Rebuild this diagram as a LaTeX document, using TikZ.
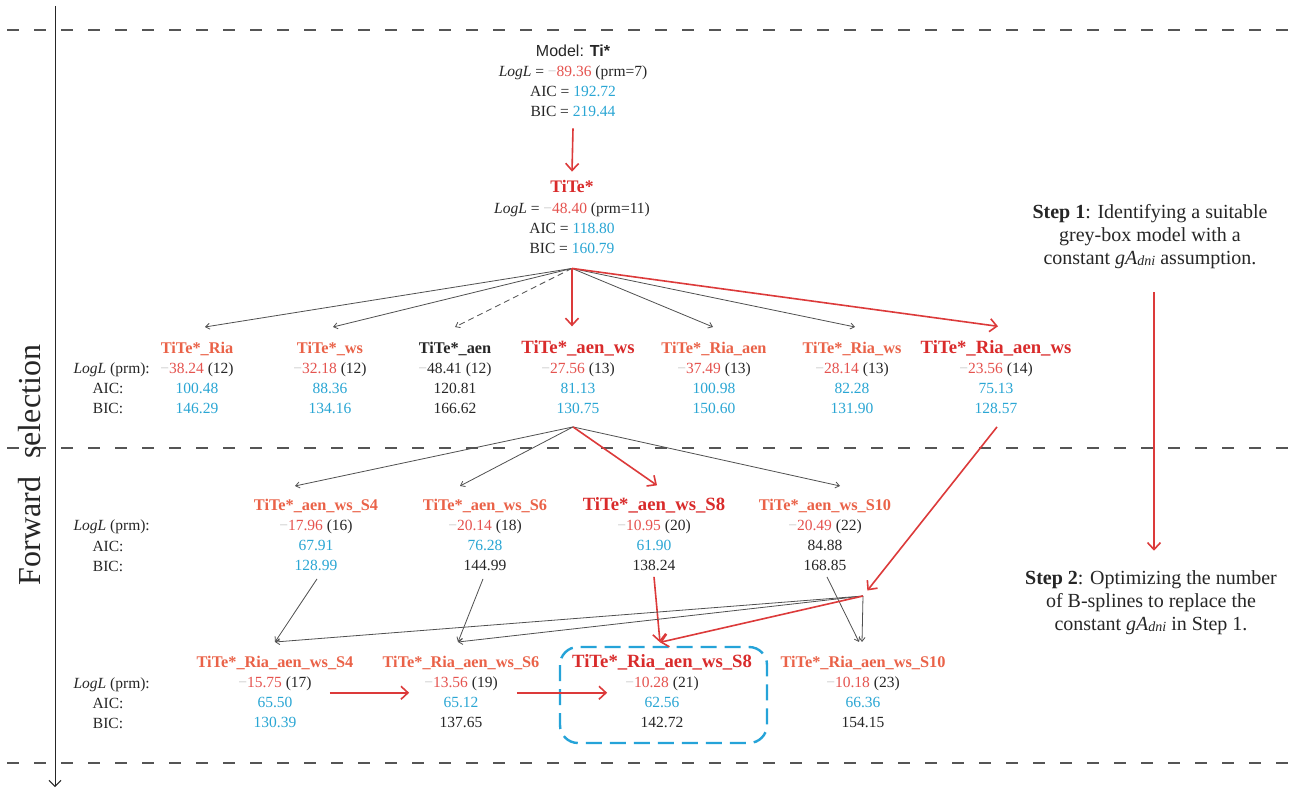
\documentclass[tikz,border=0pt]{standalone}
\usepackage{fontspec}
\setmainfont{Liberation Serif}
\newfontfamily\sansf{Liberation Sans}
\usetikzlibrary{arrows.meta,calc}
\definecolor{tred}{HTML}{D92B2B}
\definecolor{torange}{HTML}{EA6248}
\definecolor{vred}{HTML}{E5534F}
\definecolor{vblue}{HTML}{2AA6D4}
\definecolor{mgray}{HTML}{C8C8C8}
\definecolor{tdark}{HTML}{262626}
\definecolor{lgray}{HTML}{505050}
\definecolor{lred}{HTML}{DC3A3A}
\definecolor{sepgray}{HTML}{555555}
\definecolor{boxblue}{HTML}{25A3D8}
\newcommand\fbody{\fontsize{15.5}{20}\selectfont}
\newcommand\fttl{\fontsize{16.3}{20}\selectfont\bfseries}
\newcommand\fbig{\fontsize{18.7}{22}\selectfont\bfseries}
\newcommand\Mn{{\color{mgray}−}}
\newcommand\Rv[1]{\textcolor{vred}{#1}}
\newcommand\Bv[1]{\textcolor{vblue}{#1}}
\newcommand\gAdni{\textit{gA}\raisebox{-1pt}{\fontsize{14}{14}\selectfont\textit{dni}}}
\tikzset{
  txt/.style={inner sep=0pt, anchor=base, font=\fbody, text=tdark},
  ttlo/.style={txt, font=\fttl, text=torange},
  ttlr/.style={txt, font=\fbig, text=tred},
  ttlk/.style={txt, font=\fttl, text=tdark},
  gline/.style={draw=lgray, line width=0.8pt, -{Straight Barb[length=4pt,width=6pt]}},
  rline/.style={draw=lred, line width=1.6pt, -{Straight Barb[length=7pt,width=13pt]}},
  sepline/.style={draw=sepgray, line width=1.1pt, dash pattern=on 12pt off 15pt, dash phase=-7pt},
  axisline/.style={draw=tdark, line width=1pt, -{Straight Barb[length=6pt,width=12pt]}},
  stepnode/.style={inner sep=0pt, align=center, font=\fontsize{20}{23}\selectfont, text=tdark},
}
\newcommand\model[8]{%
  \node[#4] (#1t) at (#2,#3+5.5) {#5};
  \node[txt] (#1l) at (#2,#3+25.5) {#6};
  \node[txt] (#1a) at (#2,#3+45.5) {#7};
  \node[txt] (#1b) at (#2,#3+65.5) {#8};
}
\begin{document}
\begin{tikzpicture}[x=1pt,y=-1pt]
\fill[white] (0,0) rectangle (1298,789);
\useasboundingbox (0,0) rectangle (1298,789);

% separators and axis
\draw[sepline] (0,30) -- (1298,30);
\draw[sepline] (0,448) -- (1298,448);
\draw[sepline] (0,763) -- (1298,763);
\draw[axisline] (55,6) -- (55,787);
\node[rotate=90, inner sep=0pt, font=\fontsize{32}{32}\selectfont, text=tdark] (fs) at (30,465) {Forward\hspace{18pt}selection};

% top models
\node[txt, font=\sansf\fontsize{16}{20}\selectfont] (m0t) at (573,57) {Model: \textbf{Ti*}};
\node[txt] (m0l) at (573,77) {\textit{LogL} = \Mn\Rv{89.36} (prm=7)};
\node[txt] (m0a) at (573,97) {AIC = \Bv{192.72}};
\node[txt] (m0b) at (573,117) {BIC = \Bv{219.44}};

\node[ttlr, font=\fontsize{17.6}{20}\selectfont\bfseries] (m1t) at (572,192) {TiTe*};
\node[txt] (m1l) at (572,213) {\textit{LogL} = \Mn\Rv{48.40} (prm=11)};
\node[txt] (m1a) at (572,233) {AIC = \Bv{118.80}};
\node[txt] (m1b) at (572,253) {BIC = \Bv{160.79}};

% row labels
\node[txt, anchor=base east] (lab1l) at (150,373) {\textit{LogL} (prm):};
\node[txt] (lab1a) at (108,393) {AIC:};
\node[txt] (lab1b) at (108,413) {BIC:};
\node[txt, anchor=base east] (lab2l) at (150,530) {\textit{LogL} (prm):};
\node[txt] (lab2a) at (108,551) {AIC:};
\node[txt] (lab2b) at (108,571) {BIC:};
\node[txt, anchor=base east] (lab3l) at (150,688) {\textit{LogL} (prm):};
\node[txt] (lab3a) at (108,708) {AIC:};
\node[txt] (lab3b) at (108,728) {BIC:};

% row 1
\model{r1a}{197}{348}{ttlo}{TiTe*\_Ria}{\Mn\Rv{38.24} (12)}{\Bv{100.48}}{\Bv{146.29}}
\model{r1b}{330}{348}{ttlo}{TiTe*\_ws}{\Mn\Rv{32.18} (12)}{\Bv{88.36}}{\Bv{134.16}}
\model{r1c}{455}{348}{ttlk}{TiTe*\_aen}{\Mn 48.41 (12)}{120.81}{166.62}
\model{r1d}{578}{348}{ttlr}{TiTe*\_aen\_ws}{\Mn\Rv{27.56} (13)}{\Bv{81.13}}{\Bv{130.75}}
\model{r1e}{714}{348}{ttlo}{TiTe*\_Ria\_aen}{\Mn\Rv{37.49} (13)}{\Bv{100.98}}{\Bv{150.60}}
\model{r1f}{852}{348}{ttlo}{TiTe*\_Ria\_ws}{\Mn\Rv{28.14} (13)}{\Bv{82.28}}{\Bv{131.90}}
\model{r1g}{996}{348}{ttlr}{TiTe*\_Ria\_aen\_ws}{\Mn\Rv{23.56} (14)}{\Bv{75.13}}{\Bv{128.57}}

% row 2
\model{r2a}{316}{505}{ttlo}{TiTe*\_aen\_ws\_S4}{\Mn\Rv{17.96} (16)}{\Bv{67.91}}{\Bv{128.99}}
\model{r2b}{485}{505}{ttlo}{TiTe*\_aen\_ws\_S6}{\Mn\Rv{20.14} (18)}{\Bv{76.28}}{144.99}
\model{r2c}{654}{505}{ttlr}{TiTe*\_aen\_ws\_S8}{\Mn\Rv{10.95} (20)}{\Bv{61.90}}{138.24}
\model{r2d}{825}{505}{ttlo}{TiTe*\_aen\_ws\_S10}{\Mn\Rv{20.49} (22)}{84.88}{168.85}

% row 3
\model{r3a}{275}{662}{ttlo}{TiTe*\_Ria\_aen\_ws\_S4}{\Mn\Rv{15.75} (17)}{\Bv{65.50}}{\Bv{130.39}}
\model{r3b}{461}{662}{ttlo}{TiTe*\_Ria\_aen\_ws\_S6}{\Mn\Rv{13.56} (19)}{\Bv{65.12}}{137.65}
\model{r3c}{662}{662}{ttlr}{TiTe*\_Ria\_aen\_ws\_S8}{\Mn\Rv{10.28} (21)}{\Bv{62.56}}{142.72}
\model{r3d}{863}{662}{ttlo}{TiTe*\_Ria\_aen\_ws\_S10}{\Mn\Rv{10.18} (23)}{\Bv{66.36}}{154.15}

% selected model box
\draw[draw=boxblue, line width=2.4pt, dash pattern=on 16pt off 8pt, rounded corners=18pt] (560,647) rectangle (767,743);

% steps
\node[stepnode] (s1) at (1150,237) {\textbf{Step 1}: Identifying a suitable\\grey-box model with a\\constant \gAdni{} assumption.};
\node[stepnode] (s2) at (1151,603) {\textbf{Step 2}: Optimizing the number\\of B-splines to replace the\\constant \gAdni{} in Step 1.};
\draw[rline] ($(s1.south)+(4,23)$) -- ($(s2.north)+(3,-20)$);

% connectors top
\draw[rline] ($(m0b.south)+(0,11)$) -- ($(m1t.north)+(0,-8)$);
\coordinate (f1) at ($(m1b.south)+(0,15)$);
\draw[gline] (f1) -- ($(r1at.north)+(8,-15)$);
\draw[gline] (f1) -- ($(r1bt.north)+(3,-15)$);
\draw[gline, dash pattern=on 6pt off 4pt] (f1) -- ($(r1ct.north)+(0,-15)$);
\draw[gline] (f1) -- ($(r1et.north)+(-1,-15)$);
\draw[gline] (f1) -- ($(r1ft.north)+(3,-15)$);
\draw[rline] (f1) -- ($(r1dt.north)+(-6,-14)$);
\draw[rline] (f1) -- ($(r1gt.north)+(2,-14)$);

% row1 -> row2
\coordinate (f2) at ($(r1db.south)+(-5,13)$);
\draw[gline] (f2) -- ($(r2at.north)+(-21,-13)$);
\draw[gline] (f2) -- ($(r2bt.north)+(-25,-13)$);
\draw[gline] (f2) -- ($(r2dt.north)+(15,-13)$);
\draw[rline] (f2) -- ($(r2ct.north)+(3,-12)$);

% row2 -> row3
\draw[gline] ($(r2ab.south)+(1,8)$) -- ($(r3at.north)+(0,-14)$);
\draw[gline] ($(r2bb.south)+(-2,8)$) -- ($(r3bt.north)+(-3,-14)$);
\draw[gline] ($(r2db.south)+(2,6)$) -- ($(r3dt.north)+(-4,-14)$);
\draw[rline] ($(r2cb.south)+(0,6)$) -- ($(r3ct.north)+(-2,-12)$);

% hub from Ria_aen_ws
\coordinate (hub) at (863,596);
\draw[rline, shorten >=7pt] ($(r1gb.south)+(1,13)$) -- (hub);
\draw[gline] (hub) -- ($(r3at.north)+(0,-14)$);
\draw[gline] (hub) -- ($(r3bt.north)+(-3,-14)$);
\draw[gline] (hub) -- ($(r3dt.north)+(-1,-14)$);
\draw[rline] (hub) -- ($(r3ct.north)+(-2,-12)$);

% row3 horizontal arrows
\draw[rline] ($(r3al.east)+(18,9)$) -- ($(r3bl.west)+(-15,9)$);
\draw[rline] ($(r3bl.east)+(19,9)$) -- ($(r3cl.west)+(-18,9)$);
\end{tikzpicture}
\end{document}
